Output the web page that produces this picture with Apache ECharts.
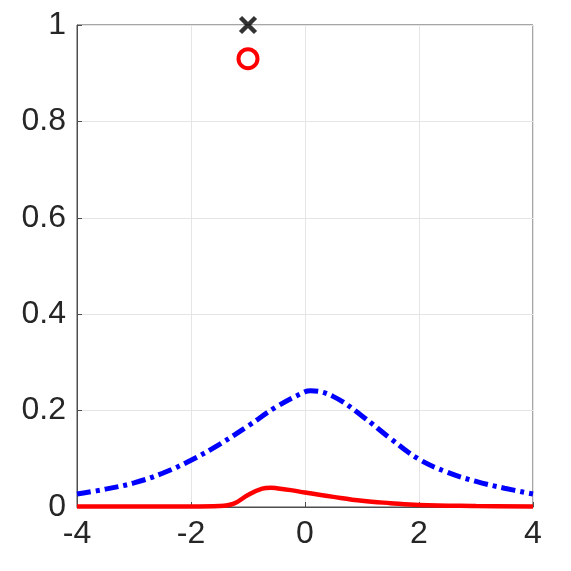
<!DOCTYPE html>
<html>
<head>
<meta charset="utf-8">
<script src="https://cdn.jsdelivr.net/npm/echarts@6/dist/echarts.min.js"></script>
<style>
  html, body { margin: 0; padding: 0; background: #fff; }
  #chart { width: 571px; height: 571px; }
</style>
</head>
<body>
<div id="chart"></div>
<script>
// values
const blueX = [-4, -3.5, -3, -2.5, -2, -1.5, -1, -0.5, 0, 0.1, 0.5, 1, 1.5, 2, 2.5, 3, 3.5, 4]
const blueY = [0.027, 0.037, 0.05, 0.07, 0.097, 0.13, 0.168, 0.208, 0.239, 0.241, 0.229, 0.189, 0.142, 0.099, 0.072, 0.053, 0.039, 0.027]
const redX = [-4, -3, -2, -1.5, -1.25, -1, -0.75, -0.6, -0.5, -0.25, 0, 0.5, 1, 1.5, 2, 3, 4]
const redY = [0.001, 0.001, 0.001, 0.002, 0.007, 0.025, 0.038, 0.04, 0.039, 0.035, 0.03, 0.021, 0.013, 0.008, 0.004, 0.002, 0.001]
const crossPt = [[-1, 1]]
const circlePt = [[-1, 0.93]]
const xTicks = [-4, -2, 0, 2, 4]
const yTicks = [0, 0.2, 0.4, 0.6, 0.8, 1]

const pairs = (xs, ys) => xs.map((x, i) => [x, ys[i]])

const chart = echarts.init(document.getElementById('chart'))
chart.setOption({
  animation: false,
  grid: {
    left: 77, right: 38, top: 25, bottom: 64,
    show: true, borderColor: '#4d4d4d', borderWidth: 1
  },
  xAxis: {
    type: 'value', min: xTicks[0], max: xTicks[xTicks.length - 1], interval: 2,
    axisLine: { onZero: false, lineStyle: { color: '#4d4d4d' } },
    axisTick: { show: true, inside: true, length: 5, lineStyle: { color: '#4d4d4d' } },
    axisLabel: { fontFamily: 'Liberation Sans', fontSize: 32, color: '#262626', margin: 11 },
    splitLine: { show: true, lineStyle: { color: '#e5e5e5', width: 1 } }
  },
  yAxis: {
    type: 'value', min: yTicks[0], max: yTicks[yTicks.length - 1], interval: 0.2,
    axisLine: { show: true, onZero: false, lineStyle: { color: '#4d4d4d' } },
    axisTick: { show: true, inside: true, length: 5, lineStyle: { color: '#4d4d4d' } },
    axisLabel: { fontFamily: 'Liberation Sans', fontSize: 32, color: '#262626', margin: 11 },
    splitLine: { show: true, lineStyle: { color: '#e5e5e5', width: 1 } }
  },
  series: [
    {
      type: 'line', data: pairs(blueX, blueY), smooth: 0.4, showSymbol: false,
      lineStyle: { color: '#0000ff', width: 5, type: [14, 5, 4, 5] }
    },
    {
      type: 'line', data: pairs(redX, redY), smooth: 0.4, showSymbol: false,
      lineStyle: { color: '#ff0000', width: 4.5 }
    },
    {
      type: 'scatter', data: crossPt, symbol: 'path://M0,0L10,10M10,0L0,10', symbolSize: 15,
      itemStyle: { color: 'rgba(0,0,0,0)', borderColor: '#000', borderWidth: 4.5 }
    },
    {
      type: 'scatter', data: circlePt, symbol: 'circle', symbolSize: 19,
      itemStyle: { color: 'rgba(0,0,0,0)', borderColor: '#ff0000', borderWidth: 4, opacity: 1 }
    }
  ]
})
</script>
</body>
</html>
